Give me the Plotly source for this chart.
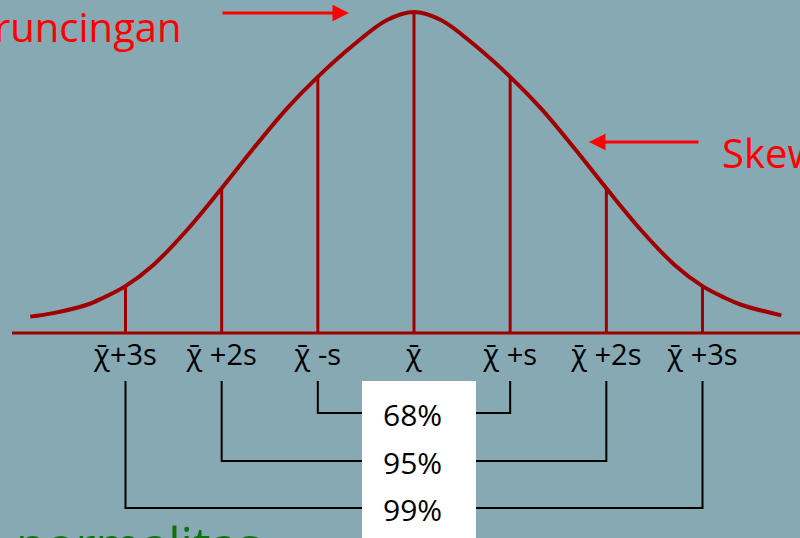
import plotly.graph_objects as go

# Positions along the axis (in units of s) and their labels
ticks = [-3, -2, -1, 0, 1, 2, 3]
tick_labels = ["χ̄+3s", "χ̄ +2s", "χ̄ -s", "χ̄", "χ̄ +s", "χ̄ +2s", "χ̄ +3s"]

# Bell curve, read point by point (height relative to the peak)
curve_x = [-3.99, -3.75, -3.40, -3.23, -3.00, -2.71, -2.36, -2.00, -1.67, -1.32,
           -1.00, -0.63, -0.28, 0.00, 0.28, 0.63, 1.00, 1.32, 1.67, 2.00,
           2.36, 2.71, 3.00, 3.23, 3.40, 3.82]
curve_y = [0.051, 0.062, 0.088, 0.110, 0.146, 0.212, 0.321, 0.451, 0.575, 0.700,
           0.798, 0.897, 0.975, 1.000, 0.975, 0.897, 0.798, 0.700, 0.575, 0.451,
           0.321, 0.212, 0.146, 0.110, 0.088, 0.055]

# Coverage bands: half-width in s and the share of data inside
band_halfwidth = [1, 2, 3]
band_labels = ["68%", "95%", "99%"]

W, H = 800, 538
X0_PX, S_PX = 414, 96.17      # pixel of the mean, pixels per s
AXIS_PX, PEAK_PX = 333, 321   # pixel row of the axis, peak height in pixels


def px_x(p):
    return (p - X0_PX) / S_PX


def px_y(p):
    return (AXIS_PX - p) / PEAK_PX


BG = "#87a9b3"
DARK_RED = "#a00000"
FONT = "Open Sans"

fig = go.Figure()

# Baseline
fig.add_trace(go.Scatter(x=[px_x(12), px_x(W)], y=[0, 0], mode="lines",
                         line=dict(color=DARK_RED, width=3), hoverinfo="skip"))

# Verticals from the axis up to the curve at each tick
tick_heights = [curve_y[curve_x.index(float(t))] for t in ticks]
vx, vy = [], []
for t, h in zip(ticks, tick_heights):
    vx += [t, t, None]
    vy += [0, h, None]
fig.add_trace(go.Scatter(x=vx, y=vy, mode="lines",
                         line=dict(color=DARK_RED, width=3), hoverinfo="skip"))

# The curve itself
fig.add_trace(go.Scatter(x=curve_x, y=curve_y, mode="lines",
                         line=dict(color=DARK_RED, width=4, shape="spline", smoothing=1.0),
                         hoverinfo="skip"))

# Brackets joining -k s and +k s
bracket_top = px_y(381)
bracket_levels = [px_y(413), px_y(461), px_y(508)]
bx, by = [], []
for k, lvl in zip(band_halfwidth, bracket_levels):
    bx += [-k, -k, k, k, None]
    by += [bracket_top, lvl, lvl, bracket_top, None]
fig.add_trace(go.Scatter(x=bx, y=by, mode="lines",
                         line=dict(color="black", width=2), hoverinfo="skip"))

# White panel behind the percentages
fig.add_shape(type="rect", x0=px_x(362), x1=px_x(476), y0=px_y(H + 5), y1=px_y(381),
              fillcolor="white", line=dict(width=0), layer="above")

for lbl, lvl in zip(band_labels, bracket_levels):
    fig.add_annotation(x=px_x(412), y=lvl - 0.006, text=lbl, showarrow=False,
                       xanchor="center", yanchor="middle",
                       font=dict(family=FONT, size=30, color="black"))

# Headings and arrows
fig.add_annotation(xref="paper", yref="paper", x=184 / W, y=1 - 26 / H,
                   text="Keruncingan", showarrow=False, xanchor="right", yanchor="middle",
                   font=dict(family=FONT, size=40, color="#ff0000"))
fig.add_annotation(xref="paper", yref="paper", x=720 / W, y=1 - 153 / H,
                   text="Skewness", showarrow=False, xanchor="left", yanchor="middle",
                   font=dict(family=FONT, size=40, color="#ff0000"))
fig.add_annotation(xref="paper", yref="paper", x=14 / W, y=1 - 544 / H,
                   text="normalitas", showarrow=False, xanchor="left", yanchor="middle",
                   font=dict(family=FONT, size=49, color="#0e700e"))

fig.add_annotation(xref="paper", yref="paper", x=349 / W, y=1 - 13 / H,
                   ax=-128, ay=0, text="", showarrow=True, arrowhead=2,
                   arrowsize=1.1, arrowwidth=3, arrowcolor="#ff0000", standoff=0)
fig.add_annotation(xref="paper", yref="paper", x=589 / W, y=1 - 142 / H,
                   ax=111, ay=0, text="", showarrow=True, arrowhead=2,
                   arrowsize=1.1, arrowwidth=3, arrowcolor="#ff0000", standoff=0)

fig.update_layout(
    width=W, height=H,
    margin=dict(l=0, r=0, t=0, b=0),
    paper_bgcolor=BG, plot_bgcolor=BG,
    showlegend=False,
    xaxis=dict(range=[px_x(0), px_x(W)], tickvals=ticks, ticktext=tick_labels,
               showgrid=False, zeroline=False, showline=False, ticks="",
               anchor="free", position=(H - AXIS_PX) / H,
               tickfont=dict(family=FONT, size=29, color="black"),
               ticklabelstandoff=2, fixedrange=True),
    yaxis=dict(range=[px_y(H), px_y(0)], visible=False, fixedrange=True),
)

fig.write_html("out.html")
